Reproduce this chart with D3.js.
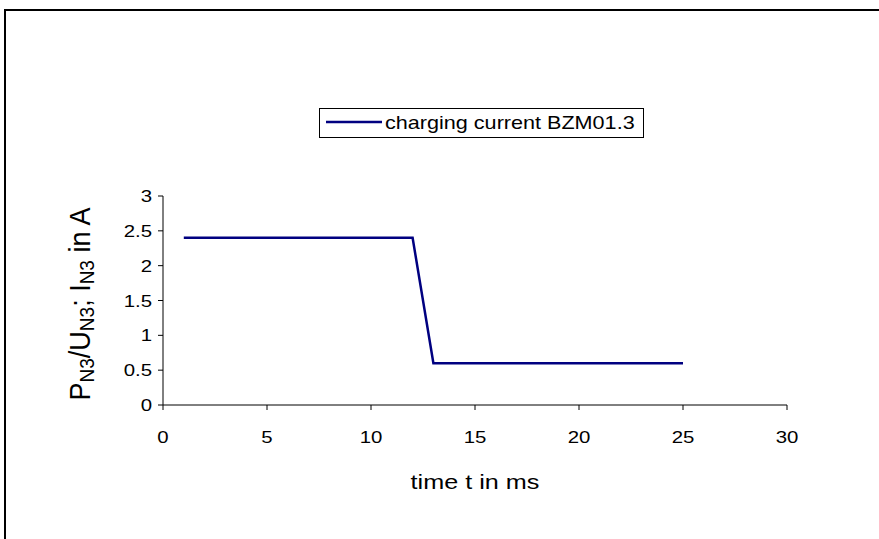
<!DOCTYPE html>
<html><head><meta charset="utf-8">
<script src="https://cdn.jsdelivr.net/npm/d3@7"></script>
<style>body{margin:0;background:#fff}svg{display:block}text{font-family:"Liberation Sans",Arial,sans-serif;fill:#000}</style>
</head><body>
<script>
const timeMs = [1, 12, 13, 25];
const current = [2.4, 2.4, 0.6, 0.6];
const xTicks = [0, 5, 10, 15, 20, 25, 30];
const yTicks = [0, 0.5, 1, 1.5, 2, 2.5, 3];
const seriesName = "charging current BZM01.3";
const xTitle = "time t in ms";

const W = 879, H = 539, SX = 1.2;
const svg = d3.select("body").append("svg").attr("width", W).attr("height", H);
svg.append("rect").attr("width", W).attr("height", H).attr("fill", "#fff");
svg.append("rect").attr("x", 5).attr("y", 10).attr("width", 1000).attr("height", 800)
  .attr("fill", "none").attr("stroke", "#000").attr("stroke-width", 2);

const x = d3.scaleLinear().domain([0, 30]).range([163, 787]);
const y = d3.scaleLinear().domain([0, 3]).range([405, 196]);

// axes
const g = svg.append("g");
g.append("line").attr("x1", x(0)).attr("x2", x(30)).attr("y1", y(0)).attr("y2", y(0)).attr("stroke", "#000").attr("stroke-width", 1);
g.append("line").attr("x1", x(0)).attr("x2", x(0)).attr("y1", y(0)).attr("y2", y(3)).attr("stroke", "#000").attr("stroke-width", 1);
g.selectAll(".xt").data(xTicks).join("line").attr("x1", d => x(d)).attr("x2", d => x(d))
  .attr("y1", y(0)).attr("y2", y(0) + 5).attr("stroke", "#000");
g.selectAll(".yt").data(yTicks).join("line").attr("x1", x(0) - 5).attr("x2", x(0))
  .attr("y1", d => y(d)).attr("y2", d => y(d)).attr("stroke", "#000");

function stretchText(sel, px, py, anchor) {
  return sel.attr("transform", `translate(${px},${py}) scale(${SX},1)`).attr("text-anchor", anchor);
}
xTicks.forEach(d => {
  stretchText(svg.append("text").text(d).attr("font-size", 17), x(d), 443, "middle");
});
yTicks.forEach(d => {
  stretchText(svg.append("text").text(d).attr("font-size", 17), x(0) - 11, y(d) + 6, "end");
});
stretchText(svg.append("text").text(xTitle).attr("font-size", 21), x(15), 489, "middle");

// y title rotated
const yt = svg.append("text").attr("font-size", 27).attr("text-anchor", "middle")
  .attr("transform", `translate(90,304) scale(1.08,1) rotate(-90)`);
function seg(t, sub) {
  const s = yt.append("tspan").text(t);
  if (sub) s.attr("font-size", 19).attr("baseline-shift", "-22%");
}
seg("P"); seg("N3", true); seg("/U"); seg("N3", true); seg("; I"); seg("N3", true); seg(" in A");

// data line
const line = d3.line().x((d, i) => x(timeMs[i])).y(d => y(d));
svg.append("path").datum(current).attr("d", line).attr("fill", "none")
  .attr("stroke", "#000080").attr("stroke-width", 2.5);

// legend
svg.append("rect").attr("x", 319.5).attr("y", 108.5).attr("width", 324).attr("height", 29)
  .attr("fill", "#fff").attr("stroke", "#000").attr("stroke-width", 1);
svg.append("line").attr("x1", 326).attr("x2", 382).attr("y1", 122).attr("y2", 122)
  .attr("stroke", "#000080").attr("stroke-width", 2.5);
stretchText(svg.append("text").text(seriesName).attr("font-size", 18), 385, 129, "start");
</script>
</body></html>
